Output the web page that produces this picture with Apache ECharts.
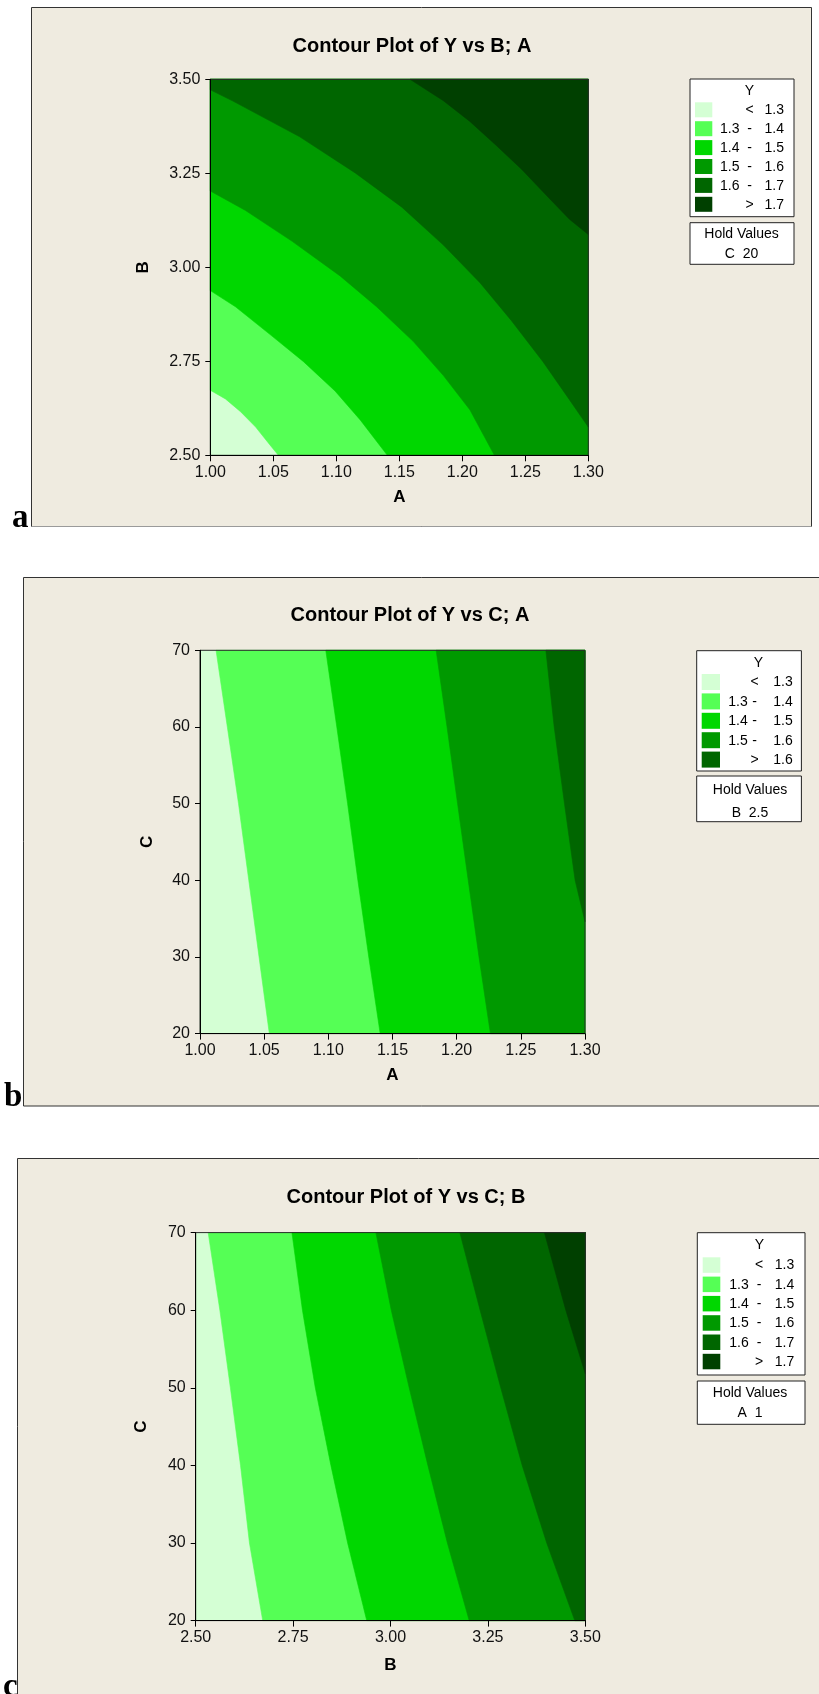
<!DOCTYPE html>
<html>
<head>
<meta charset="utf-8">
<script src="https://cdn.jsdelivr.net/npm/echarts@6/dist/echarts.min.js"></script>
<style>
html,body{margin:0;padding:0;background:#ffffff;}
#chart{width:819px;height:1694px;}
</style>
</head>
<body>
<div id="chart"></div>
<script>
// ===================== DATA =====================
const levelColors = ['#D4FFD4', '#55FF55', '#00D700', '#009900', '#006600', '#004000'];

// Panel a : Y vs B; A  (x = A, y = B), hold C = 20
const titleA = 'Contour Plot of Y vs B; A';
const aXTicks = [1.00, 1.05, 1.10, 1.15, 1.20, 1.25, 1.30];
const aYTicks = [2.50, 2.75, 3.00, 3.25, 3.50];
const aLegend = [['<', '1.3'], ['1.3', '1.4'], ['1.4', '1.5'], ['1.5', '1.6'], ['1.6', '1.7'], ['>', '1.7']];
const aHold = ['Hold Values', 'C  20'];
const a_c13 = [[1.000, 2.673], [1.012, 2.650], [1.024, 2.616], [1.036, 2.575], [1.047, 2.529], [1.054, 2.500]];
const a_c14 = [[1.000, 2.938], [1.020, 2.895], [1.049, 2.817], [1.074, 2.749], [1.099, 2.671], [1.119, 2.594], [1.1405, 2.500]];
const a_c15 = [[1.000, 3.203], [1.028, 3.151], [1.065, 3.069], [1.103, 2.977], [1.132, 2.895], [1.161, 2.803], [1.185, 2.712], [1.206, 2.621], [1.2255, 2.500]];
const a_c16 = [[1.000, 3.472], [1.018, 3.442], [1.071, 3.347], [1.115, 3.251], [1.152, 3.160], [1.185, 3.059], [1.214, 2.959], [1.239, 2.858], [1.264, 2.749], [1.285, 2.648], [1.300, 2.575]];
const a_c17 = [[1.1585, 3.500], [1.185, 3.443], [1.206, 3.388], [1.227, 3.324], [1.247, 3.261], [1.268, 3.187], [1.285, 3.128], [1.300, 3.087]];

// Panel b : Y vs C; A  (x = A, y = C), hold B = 2.5
const titleB = 'Contour Plot of Y vs C; A';
const bXTicks = [1.00, 1.05, 1.10, 1.15, 1.20, 1.25, 1.30];
const bYTicks = [20, 30, 40, 50, 60, 70];
const bLegend = [['<', '1.3'], ['1.3', '1.4'], ['1.4', '1.5'], ['1.5', '1.6'], ['>', '1.6']];
const bHold = ['Hold Values', 'B  2.5'];
const b_c13 = [[1.0125, 70], [1.0213, 60], [1.030, 50], [1.038, 40], [1.046, 30], [1.054, 20]];
const b_c14 = [[1.098, 70], [1.1066, 60], [1.115, 50], [1.123, 40], [1.1315, 30], [1.1404, 20]];
const b_c15 = [[1.184, 70], [1.1925, 60], [1.2007, 50], [1.209, 40], [1.2174, 30], [1.2263, 20]];
const b_c16 = [[1.2695, 70], [1.276, 60], [1.284, 50], [1.2923, 40], [1.300, 34.6]];

// Panel c : Y vs C; B  (x = B, y = C), hold A = 1
const titleC = 'Contour Plot of Y vs C; B';
const cXTicks = [2.50, 2.75, 3.00, 3.25, 3.50];
const cYTicks = [20, 30, 40, 50, 60, 70];
const cLegend = [['<', '1.3'], ['1.3', '1.4'], ['1.4', '1.5'], ['1.5', '1.6'], ['1.6', '1.7'], ['>', '1.7']];
const cHold = ['Hold Values', 'A  1'];
const c_c13 = [[2.532, 70], [2.562, 60], [2.589, 50], [2.615, 40], [2.638, 30], [2.672, 20]];
const c_c14 = [[2.747, 70], [2.774, 60], [2.807, 50], [2.847, 40], [2.890, 30], [2.939, 20]];
const c_c15 = [[2.9625, 70], [3.002, 60], [3.048, 50], [3.096, 40], [3.146, 30], [3.202, 20]];
const c_c16 = [[3.178, 70], [3.230, 60], [3.283, 50], [3.338, 40], [3.401, 30], [3.473, 20]];
const c_c17 = [[3.395, 70], [3.450, 60], [3.500, 51.8]];

// ===================== RENDERING =====================
const SANS = '"Liberation Sans", Arial, Helvetica, sans-serif';
const SERIF = '"Liberation Serif", "Times New Roman", serif';

function closeOnHighSide(line, x0, y0, w, h) {
  const corners = [[x0, y0 + h], [x0, y0], [x0 + w, y0], [x0 + w, y0 + h]]; // BL TL TR BR
  function tParam(p) {
    const d = [Math.abs(p[0] - x0), Math.abs(p[1] - y0), Math.abs(p[0] - (x0 + w)), Math.abs(p[1] - (y0 + h))];
    const e = d.indexOf(Math.min.apply(null, d));
    if (e === 0) return (y0 + h - p[1]) / h;
    if (e === 1) return 1 + (p[0] - x0) / w;
    if (e === 2) return 2 + (p[1] - y0) / h;
    return 3 + (x0 + w - p[0]) / w;
  }
  const mod = v => ((v % 4) + 4) % 4;
  const tS = tParam(line[0]);
  const tE = tParam(line[line.length - 1]);
  const eps = 1e-9;
  const spanCW = mod(tS - tE);
  let path = [];
  for (let c = 0; c < 4; c++) {
    const dd = mod(c - tE);
    if (dd > eps && dd < spanCW - eps) path.push([dd, c]);
  }
  path.sort((p, q) => p[0] - q[0]);
  if (!path.some(e => e[1] === 2)) {
    const spanCCW = mod(tE - tS);
    path = [];
    for (let c = 0; c < 4; c++) {
      const dd = mod(tE - c);
      if (dd > eps && dd < spanCCW - eps) path.push([dd, c]);
    }
    path.sort((p, q) => p[0] - q[0]);
  }
  return line.concat(path.map(e => corners[e[1]]));
}

function makeRenderer(contours) {
  return function (params, api) {
    const k = api.value(2);
    const cs = params.coordSys;
    const x0 = cs.x, y0 = cs.y, w = cs.width, h = cs.height;
    if (k < 0) {
      return { type: 'rect', silent: true,
        shape: { x: x0, y: y0, width: w, height: h },
        style: { fill: 'none', stroke: '#2a2a2a', lineWidth: 1 } };
    }
    let pts;
    if (k === 0) {
      pts = [[x0, y0], [x0 + w, y0], [x0 + w, y0 + h], [x0, y0 + h]];
    } else {
      const line = contours[k - 1].map(p => api.coord(p));
      pts = closeOnHighSide(line, x0, y0, w, h);
    }
    return { type: 'polygon', silent: true, shape: { points: pts },
      style: { fill: levelColors[k], stroke: levelColors[k], lineWidth: 0.6 } };
  };
}

function xAxisDef(idx, ticks, dec, name, gap) {
  return {
    gridIndex: idx, type: 'value', z: 5,
    min: ticks[0], max: ticks[ticks.length - 1], interval: +(ticks[1] - ticks[0]).toFixed(6),
    name: name, nameLocation: 'middle', nameGap: gap,
    nameTextStyle: { fontFamily: SANS, fontWeight: 'bold', fontSize: 17, color: '#000' },
    axisLine: { show: true, lineStyle: { color: '#000', width: 1 } },
    axisTick: { show: true, inside: false, length: 6, lineStyle: { color: '#000', width: 1 } },
    axisLabel: { fontFamily: SANS, fontSize: 16, color: '#111', margin: 9,
      formatter: v => v.toFixed(dec) },
    splitLine: { show: false }
  };
}
function yAxisDef(idx, ticks, dec, name, gap) {
  return {
    gridIndex: idx, type: 'value', z: 5,
    min: ticks[0], max: ticks[ticks.length - 1], interval: +(ticks[1] - ticks[0]).toFixed(6),
    name: name, nameLocation: 'middle', nameGap: gap,
    nameTextStyle: { fontFamily: SANS, fontWeight: 'bold', fontSize: 17, color: '#000' },
    axisLine: { show: true, lineStyle: { color: '#000', width: 1 } },
    axisTick: { show: true, inside: false, length: 5, lineStyle: { color: '#000', width: 1 } },
    axisLabel: { fontFamily: SANS, fontSize: 16, color: '#111', margin: 10,
      formatter: v => v.toFixed(dec) },
    splitLine: { show: false }
  };
}
function contourSeries(idx, xTicks, yTicks, contours) {
  const data = [];
  for (let k = 0; k <= contours.length; k++) data.push([xTicks[0], yTicks[0], k]);
  data.push([xTicks[0], yTicks[0], -1]);
  return { type: 'custom', xAxisIndex: idx, yAxisIndex: idx, z: 2,
    renderItem: makeRenderer(contours), data: data, animation: false, silent: true };
}

const G = [];
function frame(x, y, w, h, bottomColor) {
  G.push({ type: 'rect', z: -10, silent: true, shape: { x: x, y: y, width: w, height: h },
    style: { fill: '#EFEBE0', stroke: '#333', lineWidth: 1 } });
  if (bottomColor) {
    G.push({ type: 'line', z: -9, silent: true, shape: { x1: x, y1: y + h, x2: x + w, y2: y + h },
      style: { stroke: bottomColor, lineWidth: 1 } });
  }
}
function text(str, x, y, font, align, color) {
  G.push({ type: 'text', z: 20, silent: true, x: x, y: y,
    style: { text: str, font: font, fill: color || '#000', align: align || 'center', verticalAlign: 'middle' } });
}
function legendBox(o, labels, hold) {
  G.push({ type: 'rect', z: 15, silent: true, shape: { x: o.L, y: o.T, width: o.W, height: o.H },
    style: { fill: '#fff', stroke: '#222', lineWidth: 1 } });
  G.push({ type: 'rect', z: 15, silent: true, shape: { x: o.L, y: o.HT, width: o.W, height: o.HH },
    style: { fill: '#fff', stroke: '#222', lineWidth: 1 } });
  const f = '14px ' + SANS;
  text('Y', o.yX, o.yY, f, 'center');
  labels.forEach((lab, i) => {
    const top = o.swTop + i * o.swStep;
    G.push({ type: 'rect', z: 16, silent: true, shape: { x: o.swX, y: top, width: o.swW, height: o.swH },
      style: { fill: levelColors[i] } });
    const cy = top + o.swH / 2 + 0.5;
    if (lab[0] === '<' || lab[0] === '>') {
      text(lab[0], o.dashX, cy, f, 'center');
      text(lab[1], o.right, cy, f, 'right');
    } else {
      text(lab[0], o.start, cy, f, 'left');
      text('-', o.dashX, cy, f, 'center');
      text(lab[1], o.right, cy, f, 'right');
    }
  });
  text(hold[0], o.hX, o.hY1, f, 'center');
  text(hold[1], o.hX, o.hY2, f, 'center');
}

// frames
frame(31.5, 7.5, 780, 519, '#9a9a9a');
frame(23.5, 577.5, 830, 528.5);
frame(17.5, 1158.5, 830, 600);

// titles
const TF = 'bold 20px ' + SANS;
text(titleA, 412, 46.7, TF);
text(titleB, 410, 615.5, TF);
text(titleC, 406, 1197.3, TF);

// legends
legendBox({ L: 690, T: 79, W: 104, H: 137.7, HT: 222.7, HH: 41.6, yX: 749.5, yY: 91.5,
  swX: 695, swW: 17.3, swTop: 102.3, swStep: 18.9, swH: 15, start: 720, dashX: 749.5, right: 784,
  hX: 741.5, hY1: 234.3, hY2: 254.3 }, aLegend, aHold);
legendBox({ L: 696.7, T: 650.7, W: 104.7, H: 120.3, HT: 776, HH: 45.7, yX: 758.3, yY: 663.3,
  swX: 701.7, swW: 18.3, swTop: 674, swStep: 19.4, swH: 16, start: 728.3, dashX: 754.5, right: 792.7,
  hX: 750, hY1: 790, hY2: 812.7 }, bLegend, bHold);
legendBox({ L: 697.3, T: 1232.7, W: 107.7, H: 142.3, HT: 1381, HH: 43.3, yX: 759.3, yY: 1245,
  swX: 702.7, swW: 17.6, swTop: 1257.3, swStep: 19.3, swH: 15.5, start: 729.3, dashX: 759, right: 794.3,
  hX: 750, hY1: 1393.3, hY2: 1413.3 }, cLegend, cHold);

// panel letters
const LF = 'bold 33px ' + SERIF;
text('a', 12, 518, LF, 'left');
text('b', 4, 1097, LF, 'left');
text('c', 3, 1687, LF, 'left');

const option = {
  animation: false,
  backgroundColor: '#ffffff',
  textStyle: { fontFamily: SANS },
  grid: [
    { left: 210.3, top: 79.3, width: 378, height: 376, show: false },
    { left: 200, top: 650.3, width: 385, height: 383.3, show: false },
    { left: 195.7, top: 1232.6, width: 389.6, height: 388, show: false }
  ],
  xAxis: [
    xAxisDef(0, aXTicks, 2, 'A', 34),
    xAxisDef(1, bXTicks, 2, 'A', 33),
    xAxisDef(2, cXTicks, 2, 'B', 36)
  ],
  yAxis: [
    yAxisDef(0, aYTicks, 2, 'B', 58),
    yAxisDef(1, bYTicks, 0, 'C', 44),
    yAxisDef(2, cYTicks, 0, 'C', 46)
  ],
  series: [
    contourSeries(0, aXTicks, aYTicks, [a_c13, a_c14, a_c15, a_c16, a_c17]),
    contourSeries(1, bXTicks, bYTicks, [b_c13, b_c14, b_c15, b_c16]),
    contourSeries(2, cXTicks, cYTicks, [c_c13, c_c14, c_c15, c_c16, c_c17])
  ],
  graphic: { elements: G }
};

const chart = echarts.init(document.getElementById('chart'), null, { renderer: 'canvas' });
chart.setOption(option);
</script>
</body>
</html>
